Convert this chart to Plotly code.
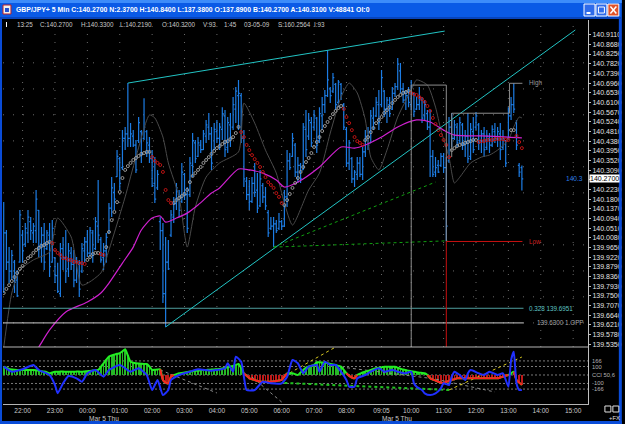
import plotly.graph_objects as go
from datetime import datetime, timedelta

# ---------------- data ----------------
START = datetime(2009, 3, 4, 21, 25)
BAR_MIN = 5

OPEN = [
 139.80,140.03,139.90,139.86,139.90,139.82,139.90,140.02,139.98,140.03,
 140.08,140.03,140.04,140.13,139.98,140.02,139.96,140.02,139.90,139.92,
 139.84,139.76,139.96,139.92,139.87,139.94,139.89,139.82,139.89,139.86,
 139.95,139.99,139.94,140.03,139.96,140.06,140.00,139.92,139.95,140.03,
 140.14,140.21,140.28,140.36,140.32,140.45,140.47,140.45,140.46,140.42,
 140.44,140.48,140.45,140.48,140.42,140.36,140.25,140.23,140.08,140.04,
 139.76,139.90,140.02,140.10,140.16,140.20,140.17,140.29,140.20,140.20,
 140.33,140.43,140.37,140.42,140.40,140.46,140.50,140.47,140.40,140.48,
 140.45,140.49,140.55,140.41,140.51,140.50,140.58,140.64,140.64,140.45,
 140.26,140.20,140.17,140.25,140.22,140.15,140.24,140.19,140.12,140.05,
 140.06,140.07,140.05,140.08,140.06,140.19,140.35,140.37,140.42,140.30,
 140.33,140.31,140.49,140.46,140.52,140.50,140.54,140.44,140.55,140.60,
 140.64,140.67,140.66,140.69,140.61,140.69,140.60,140.49,140.34,140.36,
 140.27,140.29,140.34,140.29,140.39,140.45,140.43,140.54,140.55,140.60,
 140.60,140.66,140.58,140.60,140.58,140.65,140.68,140.75,140.67,140.62,
 140.64,140.60,140.65,140.58,140.60,140.62,140.55,140.56,140.50,140.37,
 140.30,140.33,140.33,140.37,140.32,140.35,140.50,140.45,140.50,140.44,
 140.51,140.42,140.46,140.37,140.48,140.50,140.51,140.44,140.47,140.41,
 140.45,140.42,140.48,140.45,140.47,140.41,140.44,140.45,140.55,140.60,
 140.52,140.33,140.32]
HIGH = [
 140.167,140.043,139.967,139.954,139.910,139.865,140.132,140.043,140.074,140.132,
 140.101,140.074,140.221,140.132,140.056,140.074,140.043,140.074,140.087,139.923,
 139.897,139.985,140.012,140.043,139.985,139.967,139.954,139.923,139.910,139.985,
 140.012,140.043,140.056,140.043,140.101,140.265,140.012,139.985,140.030,140.163,
 140.278,140.252,140.398,140.367,140.487,140.501,140.696,140.518,140.487,140.443,
 140.545,140.487,140.629,140.487,140.456,140.398,140.367,140.310,140.101,140.074,
 140.012,139.999,140.132,140.190,140.252,140.221,140.341,140.296,140.234,140.367,
 140.474,140.443,140.456,140.443,140.487,140.532,140.563,140.501,140.518,140.532,
 140.518,140.589,140.576,140.545,140.563,140.634,140.678,140.710,140.652,140.487,
 140.278,140.265,140.278,140.341,140.296,140.310,140.252,140.234,140.132,140.101,
 140.101,140.087,140.118,140.087,140.221,140.398,140.385,140.474,140.430,140.367,
 140.341,140.518,140.576,140.563,140.545,140.576,140.545,140.589,140.634,140.665,
 140.843,140.678,140.741,140.696,140.710,140.696,140.607,140.501,140.443,140.367,
 140.310,140.367,140.367,140.412,140.487,140.501,140.576,140.589,140.634,140.665,
 140.754,140.665,140.634,140.634,140.678,140.696,140.807,140.785,140.696,140.665,
 140.678,140.710,140.652,140.634,140.678,140.634,140.621,140.576,140.576,140.398,
 140.367,140.354,140.385,140.385,140.367,140.545,140.563,140.532,140.518,140.545,
 140.518,140.487,140.563,140.518,140.545,140.567,140.518,140.487,140.501,140.487,
 140.474,140.509,140.518,140.501,140.518,140.487,140.443,140.589,140.634,140.696,
 140.532,140.341,140.330]
LOW = [
 139.763,139.865,139.807,139.821,139.763,139.745,139.897,139.897,139.967,139.985,
 139.999,139.985,139.985,139.923,139.897,139.865,139.954,139.834,139.897,139.807,
 139.763,139.745,139.865,139.807,139.834,139.865,139.789,139.807,139.745,139.852,
 139.897,139.923,139.923,139.897,139.954,139.985,139.897,139.865,139.897,140.030,
 140.101,140.132,140.278,140.221,140.310,140.398,140.412,140.412,140.412,140.296,
 140.430,140.341,140.443,140.367,140.341,140.234,140.163,140.221,139.954,139.718,
 139.612,139.865,140.012,140.074,140.132,140.101,140.163,140.176,140.030,140.190,
 140.278,140.341,140.367,140.385,140.398,140.430,140.443,140.310,140.398,140.430,
 140.398,140.443,140.367,140.385,140.412,140.487,140.518,140.487,140.430,140.234,
 140.176,140.132,140.163,140.190,140.119,140.145,140.163,140.132,140.012,140.043,
 139.967,140.030,140.043,140.043,140.056,140.145,140.310,140.367,140.278,140.252,
 140.252,140.310,140.367,140.443,140.412,140.487,140.385,140.430,140.487,140.563,
 140.634,140.607,140.652,140.576,140.589,140.621,140.487,140.323,140.310,140.252,
 140.234,140.265,140.278,140.265,140.367,140.398,140.430,140.487,140.545,140.487,
 140.589,140.545,140.518,140.545,140.576,140.634,140.665,140.652,140.607,140.576,
 140.589,140.576,140.545,140.576,140.576,140.518,140.532,140.487,140.278,140.278,
 140.278,140.296,140.323,140.296,139.993,140.341,140.412,140.443,140.412,140.430,
 140.398,140.367,140.341,140.354,140.385,140.487,140.398,140.385,140.367,140.398,
 140.385,140.412,140.430,140.412,140.354,140.398,140.323,140.443,140.532,140.563,
 140.398,140.278,140.219]
CLOSE = [
 140.03,139.90,139.86,139.93,139.81,139.75,140.11,139.95,140.05,140.10,
 140.04,140.06,140.18,139.97,140.02,139.90,140.03,139.88,140.05,139.84,
 139.77,139.96,139.92,139.86,139.95,139.89,139.82,139.90,139.78,139.96,
 139.99,139.94,140.04,139.93,140.08,140.02,139.91,139.95,140.01,140.14,
 140.23,140.18,140.37,140.25,140.45,140.47,140.45,140.47,140.42,140.31,
 140.52,140.38,140.50,140.43,140.36,140.24,140.18,140.29,140.04,139.76,
 139.90,139.87,140.11,140.16,140.23,140.13,140.30,140.20,140.05,140.34,
 140.44,140.36,140.43,140.40,140.47,140.51,140.47,140.34,140.49,140.45,
 140.50,140.56,140.40,140.52,140.45,140.60,140.66,140.65,140.45,140.27,
 140.20,140.17,140.25,140.21,140.14,140.27,140.19,140.15,140.03,140.06,
 140.07,140.04,140.08,140.06,140.19,140.35,140.32,140.45,140.30,140.33,
 140.27,140.50,140.40,140.53,140.43,140.55,140.42,140.56,140.60,140.64,
 140.71,140.64,140.72,140.60,140.70,140.65,140.50,140.34,140.43,140.27,
 140.30,140.34,140.29,140.39,140.46,140.42,140.55,140.52,140.61,140.52,
 140.72,140.58,140.62,140.56,140.65,140.68,140.78,140.67,140.62,140.64,
 140.61,140.68,140.57,140.60,140.63,140.54,140.60,140.50,140.37,140.29,
 140.32,140.30,140.37,140.32,140.06,140.50,140.45,140.51,140.43,140.52,
 140.42,140.46,140.36,140.49,140.40,140.55,140.43,140.47,140.40,140.46,
 140.42,140.49,140.45,140.48,140.40,140.45,140.34,140.55,140.60,140.58,
 140.42,140.30,140.27]

SAR = [
 139.763,139.781,139.798,139.816,139.834,139.852,139.870,139.883,139.901,139.918,
 139.927,139.941,139.954,139.963,139.972,139.976,139.985,139.990,
 139.985,139.954,139.941,139.932,139.918,139.918,139.910,139.910,139.901,139.901,
 139.896,139.896,139.892,
 139.910,139.923,139.936,139.941,139.941,
 139.936,139.932,
 139.967,140.034,140.087,140.123,140.167,140.212,140.274,140.310,140.327,140.341,
 140.354,140.363,140.372,140.381,140.385,140.390,140.390,
 140.367,140.350,140.341,140.332,140.301,140.221,140.176,140.163,
 140.163,140.176,140.185,140.194,140.203,140.221,140.256,140.283,140.296,140.310,
 140.323,140.341,140.354,140.367,140.381,140.394,140.407,140.416,140.425,140.434,
 140.438,140.447,140.456,140.474,140.501,
 140.478,140.456,140.421,140.398,140.376,140.358,140.341,140.323,140.301,140.278,
 140.256,140.243,140.230,140.207,140.190,140.163,
 140.154,140.176,140.203,140.230,140.252,140.274,140.301,140.323,140.345,140.363,
 140.385,140.412,140.434,140.456,140.483,140.505,140.523,140.541,140.558,140.572,
 140.585,140.594,
 140.581,140.545,140.518,140.487,140.456,140.438,140.430,140.421,
 140.443,140.456,140.478,140.496,140.518,140.532,140.545,140.563,140.576,140.589,
 140.607,140.621,140.634,140.643,140.652,140.656,140.661,
 140.652,140.647,140.643,140.634,140.625,140.612,140.594,140.572,140.541,140.514,
 140.487,140.465,140.443,140.421,140.367,
 140.398,140.407,140.416,140.421,140.425,140.430,140.434,140.438,140.443,140.443,
 140.434,140.438,140.438,140.443,140.443,140.443,140.447,140.447,140.447,140.447,
 140.443,140.443,
 140.487,140.487,
 140.461,140.434,140.407]
SAR_RUNS = [("U", 18), ("D", 13), ("U", 5), ("D", 2), ("U", 17), ("D", 8), ("U", 25),
            ("D", 16), ("U", 22), ("D", 8), ("U", 17), ("D", 15), ("U", 10), ("D", 12),
            ("U", 2), ("D", 3)]

MA_IDX = [10, 13, 17, 23, 31, 36, 39, 44, 48, 51, 55, 58, 60, 64, 68, 72, 77, 80, 87, 91,
          96, 101, 104, 109, 117, 125, 130, 134, 140, 146, 153, 158, 163, 167, 177, 187, 192]
MA_VAL = [139.47, 139.523, 139.599, 139.679, 139.723, 139.763, 139.807, 139.896, 139.967, 140.043,
          140.096, 140.105, 140.078, 140.096, 140.118, 140.154, 140.207, 140.230, 140.314, 140.310,
          140.296, 140.265, 140.234, 140.256, 140.323, 140.412, 140.407, 140.421, 140.456, 140.501,
          140.532, 140.523, 140.487, 140.465, 140.461, 140.456, 140.452]

GREY_IDX = [0, 3, 6, 11, 17, 20, 25, 29, 36, 39, 45, 49, 54, 56, 59, 61, 65, 68, 71, 75, 80,
            87, 89, 93, 97, 101, 104, 107, 113, 117, 121, 125, 128, 131, 134, 136, 139, 142,
            146, 151, 153, 157, 160, 162, 165, 167, 169, 173, 177, 180, 183, 187, 189, 191, 192]
GREY_VAL = [139.52, 139.763, 139.865, 139.910, 139.945, 140.096, 140.012, 139.798, 139.852, 139.954,
            140.190, 140.367, 140.554, 140.541, 140.456, 140.341, 140.190, 139.967, 140.145, 140.278,
            140.341, 140.390, 140.607, 140.518, 140.398, 140.296, 140.163, 140.065, 140.221, 140.296,
            140.474, 140.634, 140.696, 140.652, 140.532, 140.367, 140.310, 140.398, 140.545, 140.665,
            140.710, 140.687, 140.589, 140.487, 140.367, 140.252, 140.278, 140.341, 140.367, 140.376,
            140.398, 140.443, 140.501, 140.545, 140.541]

CCI_GREEN = [
 98, 85, 70, 65, 62, 60, 60, 60, 58, 58, 59,
 59, 55, 50, 45, 40, 32, 20, 30, 38,
 39, 40, 40, 39, 39, 39, 38, 40, 40, 39,
 42, 45, 48, 52, 55, 59, 95, 138, 180, 216,
 230, 240, 250, 256, 280, 303, 230, 157, 145, 138,
 135, 132, 130, 130, 100, 59, 62, 65, 67, -59,
 -90, -98, -20, 0, 10, 20, 25, 30, 35, 40,
 45, 48, 51, 55, 58, 60, 62, 64, 66, 67,
 72, 78, 85, 92, 100, 106, 118, 130, 80, 20,
 -10, -39, -50, -60, -70, -79, -80, -80, -80, -79,
 -75, -70, -65, -59, -20, 20, 20, 20, 10, 0,
 30, 60, 88, 100, 110, 118, 150, 150, 148, 145,
 140, 130, 125, 118, 108, 98, 60, 20, -10, -30,
 -39, 0, 15, 30, 39, 50, 60, 70, 79, 85,
 90, 98, 98, 98, 98, 98, 85, 75, 65, 59,
 50, 45, 39, 33, 28, 24, 20, 0, -39, -55,
 -65, -79, -88, -98, -80, -70, -59, -50, -39, -39,
 -39, -39, -39, -39, -39, -39, -39, -39, -39, -39,
 -39, -39, -39, -39, -30, -20, -10, 0, 20, 39,
 -59, -90, -118]
CCI_BLUE_IDX = [0, 3, 7, 11, 13, 17, 19, 20, 22, 24, 27, 29, 31, 34, 37, 39, 43, 47, 50, 53,
                55, 57, 59, 61, 62, 65, 69, 72, 77, 82, 83, 85, 86, 88, 89, 90, 93, 96, 99, 103,
                105, 107, 109, 111, 113, 116, 117, 119, 121, 123, 125, 127, 128, 130, 131, 134,
                136, 139, 141, 144, 146, 149, 151, 152, 153, 155, 156, 158, 160, 162, 163, 165,
                166, 167, 168, 169, 171, 172, 173, 176, 178, 180, 183, 185, 187, 188, 189, 190,
                191, 192]
CCI_BLUE_VAL = [98, 39, 67, 118, 59, 0, -118, -216, -98, -12, -39, -79, 20, 59, -20, 59, 118, 39, 79, 0,
                -177, -59, -236, -177, -59, 0, 39, 67, 51, 79, 138, 39, 216, 157, -20, -177, -177, -79,
                -98, -98, -20, 177, 138, 20, 98, 118, 39, 157, 118, 118, 39, -59, -138, -138, -39, 0,
                39, 79, 39, 59, 39, 20, 39, -98, -138, -177, -216, -236, -216, -157, -98, -118,
                -20, 39, 20, 0, -59, 20, 59, 20, 0, 39, 0, 20, -138, 177, 275, -98,
                -177, -177]
CCI_LEVELS = [166, 100, 0, -100, -166]
CCI_LEVEL_TEXT = ["166", "100", "CCI 50,6", "-100", "-166"]
CCI_YELLOW_IDX = [[104, 123], [165, 192]]
CCI_YELLOW_VAL = [[-12, 330], [-177, 212]]
CCI_GREYDOT_IDX = [[58, 79], [92, 103], [125, 157], [158, 182]]
CCI_GREYDOT_VAL = [[59, -212], [-24, -319], [94, -35], [-35, -200]]
CCI_GREENDOT_IDX = [104, 165]
CCI_GREENDOT_VAL = [-94, -177]

Y_LABELS = ["140.9110", "140.8680", "140.8250", "140.7820", "140.7390", "140.6960", "140.6530",
            "140.6100", "140.5670", "140.5240", "140.4810", "140.4380", "140.3950", "140.3520",
            "140.3090", "140.2660", "140.2230", "140.1800", "140.1370", "140.0940", "140.0510",
            "140.0080", "139.9650", "139.9220", "139.8790", "139.8360", "139.7930", "139.7500",
            "139.7070", "139.6640", "139.6210", "139.5780", "139.5350"]
HIDDEN_LABEL = "140.2660"   # covered by the last-price tag in the reference
GRID_PRICES = [139.630, 139.746, 139.861, 139.977, 140.092, 140.208, 140.324, 140.439, 140.555,
               140.670, 140.786]
X_TICKS = ["2009-03-04 22:00", "2009-03-04 23:00", "2009-03-05 00:00", "2009-03-05 01:00",
           "2009-03-05 02:00", "2009-03-05 03:00", "2009-03-05 04:00", "2009-03-05 05:00",
           "2009-03-05 06:00", "2009-03-05 07:00", "2009-03-05 08:00", "2009-03-05 09:05",
           "2009-03-05 10:00", "2009-03-05 11:00", "2009-03-05 12:00", "2009-03-05 13:00",
           "2009-03-05 14:00", "2009-03-05 15:00"]
X_TICK_TEXT = ["22:00", "23:00", "00:00", "01:00", "02:00", "03:00", "04:00", "05:00", "06:00",
               "07:00", "08:00", "09:05", "10:00", "11:00", "12:00", "13:00", "14:00", "15:00"]
DATE_LABEL_T = ["2009-03-05 00:00", "2009-03-05 09:03"]
DATE_LABEL = "Mar 5 Thu"
X_RANGE = ["2009-03-04 21:23:42", "2009-03-05 15:27:30"]
Y_RANGE = [139.5230, 140.9763]
CCI_RANGE = [-342, 330]

TOP_TL_T = ["2009-03-05 01:15", "2009-03-05 11:02"]
TOP_TL_P = [140.696, 140.927]
RISE_TL_T = ["2009-03-05 02:25", "2009-03-05 15:04"]
RISE_TL_P = [139.612, 140.932]
FIB_LEVEL = 139.6951
OPP_LEVEL = 139.6300
LEVEL_END_T = "2009-03-05 13:28"
GREEN_FAN_T = [["2009-03-05 05:45", "2009-03-05 11:08"], ["2009-03-05 05:45", "2009-03-05 10:45"]]
GREEN_FAN_P = [[139.967, 139.995], [139.967, 140.256]]
RANGE1_T = ["2009-03-05 10:00", "2009-03-05 10:00", "2009-03-05 11:05", "2009-03-05 11:05"]
RANGE1_P = [139.40, 140.687, 140.687, 139.992]
LOW_T = ["2009-03-05 11:05", "2009-03-05 11:05", "2009-03-05 13:26"]
LOW_P = [139.40, 139.992, 139.992]
RANGE2_T = ["2009-03-05 11:15", "2009-03-05 11:15", "2009-03-05 13:02", "2009-03-05 13:02", "2009-03-05 13:26"]
RANGE2_P = [140.367, 140.562, 140.562, 140.695, 140.695]
LABEL_T = "2009-03-05 13:35"
OPP_LABEL_T = "2009-03-05 13:50"
LAST_PRICE = 140.27
LAST_TAG_T = "2009-03-05 14:43"

TITLE = "GBP/JPY+ 5 Min C:140.2700 N:2.3700 H:140.8400 L:137.3800 O:137.8900 B:140.2700 A:140.3100 V:48841 OI:0"
HEADER_FIELDS = ["13:25", "C:140.2700", "H:140.3300", "L:140.2190", "O:140.3200", "V:93", "1:45",
                 "03-05-09", "S:160.2564", "I:93"]
HEADER_X = [15, 38, 79, 119, 161, 202, 223, 243, 277, 314]

# ---------------- layout helpers ----------------
W, H = 625, 424
PL, PR, PT, PB = 3, 591, 20, 404
MAIN_BOTTOM = 347
FONT = "Liberation Sans, Arial, sans-serif"


def px(x):
    return (x - PL) / (PR - PL)


def py(y):
    return (PB - y) / (PB - PT)


SPLIT = py(MAIN_BOTTOM)


def bt(i):
    return START + timedelta(minutes=BAR_MIN * i)


n = min(len(OPEN), len(HIGH), len(LOW), len(CLOSE))
times = [bt(i) for i in range(n)]

fig = go.Figure()

# ---- CCI panel ----
cn = min(len(CCI_GREEN), n)
ctimes = times[:cn]
fig.add_trace(go.Bar(
    x=ctimes, y=CCI_GREEN[:cn], xaxis="x", yaxis="y2",
    marker=dict(color=["#26B826" if v >= 0 else "#C01818" for v in CCI_GREEN[:cn]], line=dict(width=0)),
    width=85000, showlegend=False, hoverinfo="skip"))
for idx, val in zip(CCI_GREYDOT_IDX, CCI_GREYDOT_VAL):
    fig.add_trace(go.Scatter(x=[bt(i) for i in idx], y=val, xaxis="x", yaxis="y2", mode="lines",
                             line=dict(color="#8A8A8A", width=1, dash="dot"), showlegend=False, hoverinfo="skip"))
fig.add_trace(go.Scatter(x=[bt(i) for i in CCI_GREENDOT_IDX], y=CCI_GREENDOT_VAL, xaxis="x", yaxis="y2",
                         mode="lines", line=dict(color="#20C020", width=2, dash="dot"),
                         showlegend=False, hoverinfo="skip"))
for idx, val in zip(CCI_YELLOW_IDX, CCI_YELLOW_VAL):
    fig.add_trace(go.Scatter(x=[bt(i) for i in idx], y=val, xaxis="x", yaxis="y2", mode="lines",
                             line=dict(color="#D8C820", width=1, dash="dot"), showlegend=False, hoverinfo="skip"))
fig.add_trace(go.Scatter(x=ctimes, y=CCI_GREEN[:cn], xaxis="x", yaxis="y2", mode="lines",
                         line=dict(color="#22EE22", width=2, shape="spline", smoothing=0.6),
                         showlegend=False, hoverinfo="skip"))
red_part = []
for i, v in enumerate(CCI_GREEN[:cn]):
    neg = v < 0 or (i > 0 and CCI_GREEN[i - 1] < 0) or (i < cn - 1 and CCI_GREEN[i + 1] < 0)
    red_part.append(v if neg else None)
fig.add_trace(go.Scatter(x=ctimes, y=red_part, xaxis="x", yaxis="y2", mode="lines",
                         line=dict(color="#FF2020", width=2, shape="spline", smoothing=0.6),
                         showlegend=False, hoverinfo="skip"))
bl = list(zip(CCI_BLUE_IDX, CCI_BLUE_VAL))
fig.add_trace(go.Scatter(x=[bt(i) for i, _ in bl], y=[v for _, v in bl], xaxis="x", yaxis="y2",
                         mode="lines", line=dict(color="#2030FF", width=2, shape="spline", smoothing=0.5),
                         showlegend=False, hoverinfo="skip"))

# ---- main panel ----
fig.add_trace(go.Ohlc(
    x=times, open=OPEN[:n], high=HIGH[:n], low=LOW[:n], close=CLOSE[:n], xaxis="x", yaxis="y",
    increasing=dict(line=dict(color="#1C7CE4", width=1.2)),
    decreasing=dict(line=dict(color="#1C7CE4", width=1.2)),
    tickwidth=0.5, showlegend=False, hoverinfo="skip"))

gl = list(zip(GREY_IDX, GREY_VAL))
fig.add_trace(go.Scatter(x=[bt(i) for i, _ in gl], y=[v for _, v in gl], xaxis="x", yaxis="y",
                         mode="lines", line=dict(color="#4A4A4A", width=1, shape="spline", smoothing=0.6),
                         showlegend=False, hoverinfo="skip"))
ml = list(zip(MA_IDX, MA_VAL))
fig.add_trace(go.Scatter(x=[bt(i) for i, _ in ml], y=[v for _, v in ml], xaxis="x", yaxis="y",
                         mode="lines", line=dict(color="#D020D0", width=1.2, shape="spline", smoothing=0.7),
                         showlegend=False, hoverinfo="skip"))

states = []
for s, c in SAR_RUNS:
    states.extend([s] * c)
sn = min(len(SAR), len(states), n)
for st, col in (("U", "#A4A4A4"), ("D", "#C81414")):
    xs = [times[i] for i in range(sn) if states[i] == st]
    ys = [SAR[i] for i in range(sn) if states[i] == st]
    fig.add_trace(go.Scatter(x=xs, y=ys, xaxis="x", yaxis="y", mode="markers",
                             marker=dict(symbol="circle-open", size=3, color=col, line=dict(width=0.9, color=col)),
                             showlegend=False, hoverinfo="skip"))

# drawn objects
def line_trace(xs, ys, color, width=1, dash=None):
    fig.add_trace(go.Scatter(x=xs, y=ys, xaxis="x", yaxis="y", mode="lines",
                             line=dict(color=color, width=width, dash=dash),
                             showlegend=False, hoverinfo="skip"))

line_trace([X_RANGE[0], LEVEL_END_T], [FIB_LEVEL, FIB_LEVEL], "#4E9E9E")
line_trace([X_RANGE[0], LEVEL_END_T], [OPP_LEVEL, OPP_LEVEL], "#CFCFCF")
line_trace(TOP_TL_T, TOP_TL_P, "#22C4C4")
line_trace(RISE_TL_T, RISE_TL_P, "#22C4C4")
for xs, ys in zip(GREEN_FAN_T, GREEN_FAN_P):
    line_trace(xs, ys, "#10A010", 1, "dot")
line_trace(RANGE1_T, RANGE1_P, "#8C8C8C")
line_trace(LOW_T, LOW_P, "#C81010")
line_trace(RANGE2_T, RANGE2_P, "#8C8C8C")

# ---------------- shapes ----------------
shapes = []
for t in X_TICKS:
    shapes.append(dict(type="line", xref="x", yref="paper", x0=t, x1=t, y0=SPLIT, y1=1,
                       line=dict(color="#6A6A6A", width=1, dash="1px,7px"), layer="below"))
for p in GRID_PRICES:
    shapes.append(dict(type="line", xref="paper", yref="y", x0=0, x1=1, y0=p, y1=p,
                       line=dict(color="#6A6A6A", width=1, dash="1px,9px"), layer="below"))
for lv in CCI_LEVELS:
    shapes.append(dict(type="line", xref="paper", yref="y2", x0=0, x1=1, y0=lv, y1=lv,
                       line=dict(color="#7A7A7A", width=1, dash="2px,2px"), layer="below"))
shapes.append(dict(type="line", xref="paper", yref="paper", x0=0, x1=1, y0=SPLIT, y1=SPLIT,
                   line=dict(color="#B4B4B4", width=1)))
# title bar
shapes.append(dict(type="rect", xref="paper", yref="paper", x0=px(0), x1=px(625), y0=py(19), y1=py(0),
                   fillcolor="#0A5AE6", line=dict(width=0)))
shapes.append(dict(type="rect", xref="paper", yref="paper", x0=px(0), x1=px(625), y0=py(3), y1=py(0),
                   fillcolor="#3D8CFA", line=dict(width=0)))
shapes.append(dict(type="rect", xref="paper", yref="paper", x0=px(0), x1=px(625), y0=py(19), y1=py(17),
                   fillcolor="#0844BC", line=dict(width=0)))
shapes.append(dict(type="rect", xref="paper", yref="paper", x0=px(3), x1=px(11), y0=py(14), y1=py(5),
                   fillcolor="#F0F0F0", line=dict(color="#C02020", width=1)))
shapes.append(dict(type="rect", xref="paper", yref="paper", x0=px(5), x1=px(9), y0=py(12), y1=py(8),
                   fillcolor="#2050D0", line=dict(width=0)))
for x0, col in ((587, "#2E6BEA"), (599, "#2E6BEA"), (611, "#E0532A")):
    shapes.append(dict(type="rect", xref="paper", yref="paper", x0=px(x0), x1=px(x0 + 11), y0=py(16), y1=py(4),
                       fillcolor=col, line=dict(color="#FFFFFF", width=1)))
shapes.append(dict(type="line", xref="paper", yref="paper", x0=px(589.5), x1=px(593.5), y0=py(13), y1=py(13),
                   line=dict(color="#FFFFFF", width=2)))
shapes.append(dict(type="rect", xref="paper", yref="paper", x0=px(601.5), x1=px(607.5), y0=py(13), y1=py(7),
                   line=dict(color="#FFFFFF", width=1)))
shapes.append(dict(type="line", xref="paper", yref="paper", x0=px(613.5), x1=px(619.5), y0=py(13.5), y1=py(6.5),
                   line=dict(color="#FFFFFF", width=1.5)))
shapes.append(dict(type="line", xref="paper", yref="paper", x0=px(613.5), x1=px(619.5), y0=py(6.5), y1=py(13.5),
                   line=dict(color="#FFFFFF", width=1.5)))
shapes.append(dict(type="rect", xref="paper", yref="paper", x0=px(0), x1=px(2), y0=py(424), y1=py(19),
                   fillcolor="#0A4CD8", line=dict(width=0)))
shapes.append(dict(type="rect", xref="paper", yref="paper", x0=px(622), x1=px(625), y0=py(424), y1=py(19),
                   fillcolor="#0A4CD8", line=dict(width=0)))
shapes.append(dict(type="rect", xref="paper", yref="paper", x0=px(0), x1=px(625), y0=py(424), y1=py(421),
                   fillcolor="#0A4CD8", line=dict(width=0)))
shapes.append(dict(type="rect", xref="paper", yref="paper", x0=px(6), x1=px(7), y0=py(27), y1=py(22),
                   fillcolor="#FFFFFF", line=dict(width=0)))
for x0 in (608, 616):
    shapes.append(dict(type="rect", xref="paper", yref="paper", x0=px(x0), x1=px(x0 + 6), y0=py(412), y1=py(406),
                       line=dict(color="#E0E0E0", width=1)))

# ---------------- annotations ----------------
ann = []
ann.append(dict(text="<b>" + TITLE + "</b>", xref="paper", yref="paper", x=px(14), y=py(9.5),
                xanchor="left", yanchor="middle", showarrow=False,
                font=dict(family=FONT, size=6.9, color="#FFFFFF")))
for txt, xx in zip(HEADER_FIELDS, HEADER_X):
    ann.append(dict(text=txt, xref="paper", yref="paper", x=px(xx), y=py(24.5), xanchor="left",
                    yanchor="middle", showarrow=False, font=dict(family=FONT, size=6.3, color="#C8C8C8")))
for t in DATE_LABEL_T:
    ann.append(dict(text=DATE_LABEL, xref="x", yref="paper", x=t, y=py(418), xanchor="left",
                    yanchor="middle", showarrow=False, font=dict(family=FONT, size=6.6, color="#C8C8C8")))
ann.append(dict(text="High", xref="x", yref="y", x=LABEL_T, y=140.695, xanchor="left", yanchor="middle",
                showarrow=False, font=dict(family=FONT, size=6.3, color="#9A9A9A")))
ann.append(dict(text="Low", xref="x", yref="y", x=LABEL_T, y=139.992, xanchor="left", yanchor="middle",
                showarrow=False, font=dict(family=FONT, size=6.3, color="#D02020")))
ann.append(dict(text="0.328 139.6951", xref="x", yref="y", x=LABEL_T, y=FIB_LEVEL, xanchor="left",
                yanchor="middle", showarrow=False, font=dict(family=FONT, size=6.3, color="#5EC4C4")))
ann.append(dict(text="139.6300 1.OPP", xref="x", yref="y", x=OPP_LABEL_T, y=OPP_LEVEL, xanchor="left",
                yanchor="middle", showarrow=False, font=dict(family=FONT, size=6.3, color="#A8A8A8")))
ann.append(dict(text="140.3", xref="x", yref="y", x=LAST_TAG_T, y=LAST_PRICE, xanchor="left",
                yanchor="middle", showarrow=False, font=dict(family=FONT, size=6.6, color="#2A7EE8")))
ann.append(dict(text="140.2700", xref="paper", yref="y", x=1, xshift=1, y=LAST_PRICE, xanchor="left",
                yanchor="middle", showarrow=False, bgcolor="#FFFFFF", borderpad=0,
                font=dict(family=FONT, size=7, color="#000000")))
for lv, txt in zip(CCI_LEVELS, CCI_LEVEL_TEXT):
    ann.append(dict(text=txt, xref="paper", yref="y2", x=px(593), y=lv, xanchor="left", yanchor="middle",
                    showarrow=False, font=dict(family=FONT, size=5.8, color="#B4B4B4")))
ann.append(dict(text="+FX", xref="paper", yref="paper", x=px(610), y=py(418), xanchor="left", yanchor="middle",
                showarrow=False, font=dict(family=FONT, size=5.8, color="#E0E0E0")))

fig.update_layout(
    width=W, height=H, autosize=False,
    margin=dict(l=PL, r=W - PR, t=PT, b=H - PB, pad=0),
    paper_bgcolor="#000000", plot_bgcolor="#000000",
    showlegend=False, bargap=0,
    xaxis=dict(type="date", range=X_RANGE, anchor="y2", tickvals=X_TICKS, ticktext=X_TICK_TEXT,
               showgrid=False, zeroline=False, showline=True, linecolor="#B4B4B4", linewidth=1,
               ticks="", tickfont=dict(family=FONT, size=6.6, color="#C8C8C8"),
               rangeslider=dict(visible=False), fixedrange=True),
    yaxis=dict(domain=[SPLIT, 1], range=Y_RANGE, side="right", anchor="x",
               tickvals=[float(s) for s in Y_LABELS],
               ticktext=["" if s == HIDDEN_LABEL else s for s in Y_LABELS],
               showgrid=False, zeroline=False, showline=True, linecolor="#C0C0C0", linewidth=1,
               ticks="outside", ticklen=2, tickcolor="#C0C0C0",
               tickfont=dict(family=FONT, size=7, color="#E0E0E0"), fixedrange=True),
    yaxis2=dict(domain=[0, SPLIT], range=CCI_RANGE, side="right", anchor="x",
                showgrid=False, zeroline=False, showline=True, linecolor="#C0C0C0", linewidth=1,
                showticklabels=False, ticks="", fixedrange=True),
    shapes=shapes, annotations=ann,
)

fig.write_html("out.html", config={"displayModeBar": False})
